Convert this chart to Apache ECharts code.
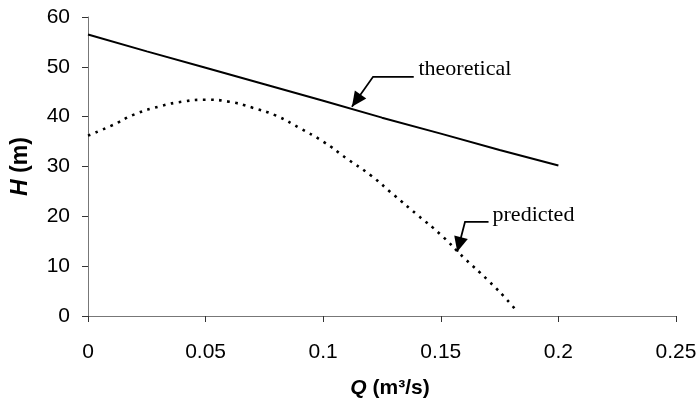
<!DOCTYPE html>
<html>
<head>
<meta charset="utf-8">
<script src="https://cdn.jsdelivr.net/npm/echarts@6/dist/echarts.min.js"></script>
<style>
html,body{margin:0;padding:0;background:#fff;}
#chart{width:700px;height:414px;}
</style>
</head>
<body>
<div id="chart"></div>
<script>
// Data
var theoreticalQ = [0, 0.025, 0.05, 0.075, 0.1, 0.125, 0.15, 0.175, 0.2];
var theoreticalH = [56.5, 53.1, 49.8, 46.5, 43.2, 39.8, 36.6, 33.3, 30.2];

var predictedQ = [0, 0.01, 0.02, 0.03, 0.04, 0.05, 0.06, 0.07, 0.08, 0.09, 0.1, 0.11, 0.12, 0.13, 0.14, 0.15, 0.16, 0.17, 0.18, 0.182];
var predictedH = [36.2, 38.2, 40.5, 42.0, 43.0, 43.4, 43.0, 41.8, 40.2, 37.7, 35.0, 31.6, 28.3, 24.3, 20.3, 16.3, 11.6, 7.2, 2.3, 1.0];

var xTicks = [0, 0.05, 0.1, 0.15, 0.2, 0.25];
var yTicks = [0, 10, 20, 30, 40, 50, 60];

// Annotation anchors (data space)
var theoLabel = {text: 'theoretical', at: [0.1405, 49.6]};
var theoArrow = [[0.1385, 48.0], [0.1212, 48.0], [0.1122, 42.0]];
var predLabel = {text: 'predicted', at: [0.1720, 20.2]};
var predArrow = [[0.1703, 18.9], [0.1603, 18.9], [0.157, 12.9]];

function zip(a, b) { return a.map(function (v, i) { return [v, b[i]]; }); }

var chart = echarts.init(document.getElementById('chart'), null, {renderer: 'canvas'});

var axisColor = '#777';
var nameFont = 'Liberation Sans';
var option = {
  animation: false,
  backgroundColor: '#fff',
  grid: {left: 88, right: 24, top: 17, bottom: 98, containLabel: false},
  xAxis: {
    type: 'value',
    min: xTicks[0], max: xTicks[xTicks.length - 1], interval: 0.05,
    name: '{i|Q} {b|(m³/s)}',
    nameLocation: 'middle',
    nameGap: 62,
    nameTextStyle: {fontFamily: nameFont, fontSize: 21, fontWeight: 'bold', color: '#000',
      padding: [0, 0, 0, 16],
      rich: {
        i: {fontFamily: nameFont, fontSize: 21, fontWeight: 'bold', fontStyle: 'italic', color: '#000'},
        b: {fontFamily: nameFont, fontSize: 21, fontWeight: 'bold', color: '#000'}
      }},
    axisLine: {show: true, lineStyle: {color: axisColor, width: 1}},
    axisTick: {show: true, inside: false, length: 6, lineStyle: {color: '#333', width: 1}},
    axisLabel: {fontFamily: 'Liberation Sans', fontSize: 21, color: '#000', margin: 26,
      formatter: function (v) { return String(+v.toFixed(2)); }},
    splitLine: {show: false}
  },
  yAxis: {
    type: 'value',
    min: yTicks[0], max: yTicks[yTicks.length - 1], interval: 10,
    name: '{i|H} {b|(m)}',
    nameLocation: 'middle',
    nameGap: 56,
    nameRotate: 90,
    nameTextStyle: {fontFamily: nameFont, fontSize: 23, fontWeight: 'bold', color: '#000',
      rich: {
        i: {fontFamily: nameFont, fontSize: 23, fontWeight: 'bold', fontStyle: 'italic', color: '#000'},
        b: {fontFamily: nameFont, fontSize: 23, fontWeight: 'bold', color: '#000'}
      }},
    axisLine: {show: true, lineStyle: {color: axisColor, width: 1}},
    axisTick: {show: true, inside: false, length: 6, lineStyle: {color: '#333', width: 1}},
    axisLabel: {fontFamily: 'Liberation Sans', fontSize: 21, color: '#000', margin: 18},
    splitLine: {show: false}
  },
  series: [
    {
      name: 'theoretical', type: 'line', data: zip(theoreticalQ, theoreticalH),
      symbol: 'none', smooth: false,
      lineStyle: {color: '#000', width: 2}
    },
    {
      name: 'predicted', type: 'line', data: zip(predictedQ, predictedH),
      symbol: 'none', smooth: true,
      lineStyle: {color: '#000', width: 2.6, type: [2.6, 5.5]}
    }
  ]
};
chart.setOption(option);

function px(p) { return chart.convertToPixel({gridIndex: 0}, p); }

function arrowGraphics(pts) {
  var p = pts.map(px);
  var els = [];
  els.push({type: 'polyline', shape: {points: p}, style: {stroke: '#000', lineWidth: 1.8, fill: null}, z: 100});
  var tip = p[p.length - 1], prev = p[p.length - 2];
  var ang = Math.atan2(tip[1] - prev[1], tip[0] - prev[0]);
  var L = 15, W = 7;
  var bx = tip[0] - L * Math.cos(ang), by = tip[1] - L * Math.sin(ang);
  var nx = -Math.sin(ang) * W, ny = Math.cos(ang) * W;
  els.push({type: 'polygon', shape: {points: [tip, [bx + nx, by + ny], [bx - nx, by - ny]]}, style: {fill: '#000'}, z: 101});
  return els;
}

function labelGraphic(lbl) {
  var p = px(lbl.at);
  return {type: 'text', x: p[0], y: p[1], z: 100,
    style: {text: lbl.text, font: '22px "Liberation Serif"', fill: '#000', textAlign: 'left', textVerticalAlign: 'middle'}};
}

var g = [].concat(arrowGraphics(theoArrow), arrowGraphics(predArrow), [labelGraphic(theoLabel), labelGraphic(predLabel)]);
chart.setOption({graphic: {elements: g}});
</script>
</body>
</html>
